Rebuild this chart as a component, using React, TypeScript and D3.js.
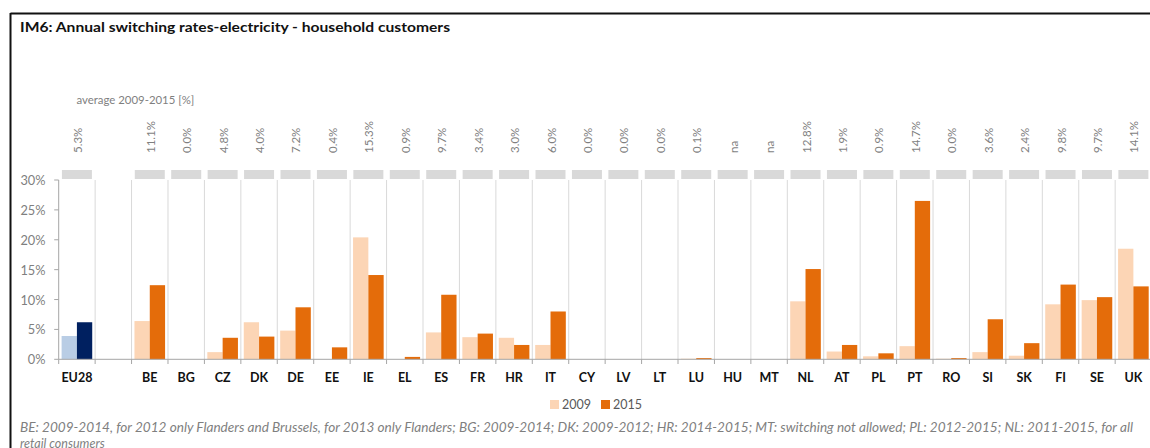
import React from "react";
import * as d3 from "d3";

const categories = ["EU28", "", "BE", "BG", "CZ", "DK", "DE", "EE", "IE", "EL", "ES", "FR", "HR", "IT", "CY", "LV", "LT", "LU", "HU", "MT", "NL", "AT", "PL", "PT", "RO", "SI", "SK", "FI", "SE", "UK"];
const values2009 = [3.9, 0, 6.4, 0, 1.2, 6.2, 4.8, 0, 20.4, 0, 4.5, 3.7, 3.6, 2.4, 0, 0, 0, 0.1, 0, 0, 9.7, 1.3, 0.5, 2.2, 0.1, 1.2, 0.6, 9.2, 9.9, 18.5];
const values2015 = [6.2, 0, 12.4, 0, 3.6, 3.8, 8.7, 2.0, 14.1, 0.4, 10.8, 4.3, 2.4, 8.0, 0, 0, 0, 0.2, 0, 0, 15.1, 2.4, 1.0, 26.5, 0.2, 6.7, 2.7, 12.5, 10.4, 12.2];
const averageLabels = ["5.3%", "", "11.1%", "0.0%", "4.8%", "4.0%", "7.2%", "0.4%", "15.3%", "0.9%", "9.7%", "3.4%", "3.0%", "6.0%", "0.0%", "0.0%", "0.0%", "0.1%", "na", "na", "12.8%", "1.9%", "0.9%", "14.7%", "0.0%", "3.6%", "2.4%", "9.8%", "9.7%", "14.1%"];
const yTicks = [0, 5, 10, 15, 20, 25, 30];
const seriesNames = ["2009", "2015"];

const W = 1150;
const H = 448;
const FONT = "Lato, 'Liberation Sans', sans-serif";

export default function App() {
  const plotLeft = 58.7;
  const band = 36.43;
  const x = d3.scaleBand<string>()
    .domain(categories.map((c, i) => String(i)))
    .range([plotLeft, plotLeft + band * categories.length])
    .padding(0);
  const xi = d3.scaleBand<string>().domain(seriesNames).range([0, x.bandwidth()]).paddingInner(0).paddingOuter(0.19);
  const y = d3.scaleLinear().domain([0, 30]).range([359.3, 180]);

  const colors = (i: number, s: number) => {
    if (i === 0) return s === 0 ? "#b9cde5" : "#002060";
    return s === 0 ? "#fcd5b5" : "#e46c0a";
  };

  return (
    <svg width={W} height={H} style={{ position: "absolute", left: 0, top: 0, background: "#fff" }} fontFamily={FONT}>
      {/* frame */}
      <line x1={10.5} y1={13.5} x2={W + 5} y2={13.5} stroke="#111" strokeWidth={2} />
      <line x1={10.5} y1={13} x2={10.5} y2={H + 5} stroke="#111" strokeWidth={2} />

      <text x={20} y={32} fontSize={14} fontWeight="bold" fill="#111" textLength={430} lengthAdjust="spacingAndGlyphs">
        IM6: Annual switching rates-electricity - household customers
      </text>

      <text x={76.5} y={104} fontSize={11.4} fill="#7f7f7f">average 2009-2015 [%]</text>

      {/* average labels + grey boxes */}
      {categories.map((c, i) => {
        if (c === "") return null;
        const cx = (x(String(i)) as number) + x.bandwidth() / 2;
        return (
          <g key={"avg" + i}>
            <text transform={`translate(${cx + 0.5},153) rotate(-90)`} fontSize={11.5} fill="#7f7f7f" dominantBaseline="central">
              {averageLabels[i]}
            </text>
            <rect x={cx - 15} y={170} width={30} height={9} fill="#d9d9d9" />
          </g>
        );
      })}

      {/* vertical separators */}
      {categories.map((c, i) => {
        const xx = (x(String(i)) as number);
        if (i === 0) return null;
        return <line key={"sep" + i} x1={xx} x2={xx} y1={180} y2={359.3} stroke="#d9d9d9" strokeWidth={1} />;
      })}

      {/* bars */}
      {categories.map((c, i) => {
        const x0 = x(String(i)) as number;
        return [values2009[i], values2015[i]].map((v, s) => (
          v > 0 ? (
            <rect key={"b" + i + "-" + s} x={x0 + (xi(seriesNames[s]) as number)} y={y(v)} width={xi.bandwidth()} height={y(0) - y(v)} fill={colors(i, s)} />
          ) : null
        ));
      })}

      {/* y axis */}
      <line x1={plotLeft} x2={plotLeft} y1={180} y2={359.3} stroke="#a6a6a6" strokeWidth={1} />
      {yTicks.map((t) => (
        <g key={"yt" + t}>
          <line x1={plotLeft - 4.5} x2={plotLeft} y1={y(t)} y2={y(t)} stroke="#a6a6a6" />
          <text x={45.5} y={y(t)} textAnchor="end" dominantBaseline="central" fontSize={12.8} fill="#7f7f7f">{t}%</text>
        </g>
      ))}

      {/* x axis */}
      <line x1={plotLeft} x2={W + 5} y1={359.3} y2={359.3} stroke="#a6a6a6" strokeWidth={1} />
      {categories.map((c, i) => {
        const xx = x(String(i)) as number;
        return <line key={"xt" + i} x1={xx} x2={xx} y1={359.3} y2={364} stroke="#a6a6a6" />;
      })}
      {categories.map((c, i) => {
        const cx = (x(String(i)) as number) + x.bandwidth() / 2;
        return (
          <text key={"xl" + i} x={cx} y={382} textAnchor="middle" fontSize={12.5} fontWeight="bold" fill="#111">{c}</text>
        );
      })}

      {/* legend */}
      {seriesNames.map((s, k) => (
        <g key={"lg" + s}>
          <rect x={550 + k * 51} y={400} width={9} height={9} fill={k === 0 ? "#fcd5b5" : "#e46c0a"} />
          <text x={562 + k * 51} y={409} fontSize={12.5} fill="#595959">{s}</text>
        </g>
      ))}

      {/* footnote */}
      <text x={20} y={432} fontSize={12.5} fontStyle="italic" fill="#7f7f7f" textLength={1113} lengthAdjust="spacingAndGlyphs">
        BE: 2009-2014, for 2012 only Flanders and Brussels, for 2013 only Flanders; BG: 2009-2014; DK: 2009-2012; HR: 2014-2015; MT: switching not allowed; PL: 2012-2015; NL: 2011-2015, for all
      </text>
      <text x={20} y={448} fontSize={12.5} fontStyle="italic" fill="#7f7f7f">retail consumers</text>
    </svg>
  );
}
